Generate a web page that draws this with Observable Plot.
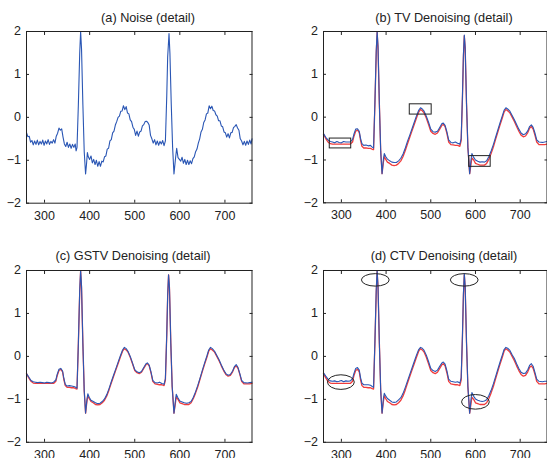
<!DOCTYPE html>
<html><head><meta charset="utf-8">
<script src="https://cdn.jsdelivr.net/npm/d3@7"></script>
<script src="https://cdn.jsdelivr.net/npm/@observablehq/plot@0.6"></script>
<style>
body{margin:0;background:#fff;}
#wrap{position:relative;width:547px;height:458px;overflow:hidden;background:#fff;font-family:"Liberation Sans",Arial,sans-serif;}
.title{position:absolute;font-size:12.7px;color:#222;white-space:nowrap;transform:translate(-50%,-50%);line-height:1;}
.panel{position:absolute;}
</style></head><body><div id="wrap"></div>
<script>
// ---- data ----
const xTicks = [300, 400, 500, 600, 700];
const yTicks = [-2, -1, 0, 1, 2];
const titles = ["(a) Noise (detail)", "(b) TV Denoising (detail)", "(c) GSTV Denoising (detail)", "(d) CTV Denoising (detail)"];

const sampleX = [260,265,270,275,280,285,290,295,300,305,310,315,320,325,328,332,336,340,343,346,350,355,360,365,369,372,375,378,380,382,385,388,391,394,396,399,403,408,413,418,423,428,433,438,443,448,453,458,463,468,473,477,481,485,490,495,500,505,510,515,520,525,528,532,536,540,545,550,555,560,565,568,571,573,575,577,580,583,587,590,592,596,600,605,610,615,620,625,630,635,640,645,650,655,660,664,668,672,677,682,687,692,697,702,707,712,717,721,725,729,733,737,742,750,755,760];
const cleanY = [-0.40,-0.50,-0.58,-0.62,-0.63,-0.63,-0.63,-0.63,-0.63,-0.63,-0.63,-0.63,-0.63,-0.58,-0.45,-0.33,-0.30,-0.36,-0.55,-0.68,-0.72,-0.72,-0.73,-0.73,-0.75,-0.76,0.30,1.50,1.98,1.60,0.30,-0.80,-1.32,-1.05,-0.92,-0.98,-1.05,-1.08,-1.12,-1.13,-1.12,-1.08,-1.02,-0.92,-0.78,-0.62,-0.47,-0.32,-0.17,-0.02,0.12,0.18,0.15,0.10,-0.02,-0.17,-0.33,-0.38,-0.40,-0.37,-0.28,-0.19,-0.17,-0.22,-0.38,-0.58,-0.64,-0.65,-0.66,-0.66,-0.68,-0.55,0.50,1.40,1.90,1.60,0.30,-0.70,-1.32,-1.10,-0.95,-1.00,-1.08,-1.10,-1.12,-1.12,-1.12,-1.08,-0.98,-0.85,-0.70,-0.52,-0.35,-0.18,-0.02,0.12,0.18,0.15,0.10,0.00,-0.10,-0.22,-0.33,-0.42,-0.46,-0.44,-0.36,-0.26,-0.22,-0.28,-0.42,-0.58,-0.64,-0.64,-0.64,-0.63];
const tvY = [-0.38,-0.47,-0.53,-0.57,-0.58,-0.60,-0.57,-0.59,-0.60,-0.57,-0.58,-0.58,-0.58,-0.52,-0.40,-0.28,-0.27,-0.33,-0.50,-0.62,-0.66,-0.65,-0.67,-0.66,-0.70,-0.72,0.35,1.55,2.00,1.65,0.30,-0.80,-1.32,-0.98,-0.85,-0.92,-0.98,-1.02,-1.05,-1.06,-1.06,-1.02,-0.96,-0.86,-0.72,-0.56,-0.42,-0.27,-0.12,0.03,0.16,0.22,0.19,0.14,0.02,-0.12,-0.28,-0.34,-0.35,-0.33,-0.24,-0.15,-0.14,-0.19,-0.34,-0.53,-0.59,-0.60,-0.58,-0.61,-0.63,-0.50,0.55,1.45,1.92,1.62,0.30,-0.70,-1.32,-1.00,-0.85,-0.94,-1.00,-1.03,-1.05,-1.04,-1.05,-1.02,-0.92,-0.79,-0.64,-0.47,-0.30,-0.13,0.03,0.16,0.22,0.19,0.14,0.04,-0.06,-0.17,-0.28,-0.37,-0.41,-0.39,-0.32,-0.22,-0.18,-0.24,-0.37,-0.53,-0.58,-0.59,-0.58,-0.57];
const gstvY = [-0.40,-0.48,-0.56,-0.59,-0.60,-0.61,-0.60,-0.61,-0.62,-0.60,-0.61,-0.62,-0.60,-0.55,-0.42,-0.30,-0.28,-0.34,-0.52,-0.65,-0.69,-0.68,-0.69,-0.70,-0.72,-0.74,0.30,1.55,2.00,1.65,0.30,-0.80,-1.32,-1.00,-0.87,-0.95,-1.02,-1.05,-1.08,-1.10,-1.09,-1.05,-0.99,-0.89,-0.75,-0.59,-0.44,-0.29,-0.14,0.01,0.15,0.21,0.18,0.12,0.00,-0.15,-0.31,-0.36,-0.38,-0.35,-0.26,-0.17,-0.15,-0.20,-0.36,-0.56,-0.61,-0.62,-0.60,-0.63,-0.65,-0.52,0.52,1.42,1.90,1.60,0.30,-0.70,-1.32,-1.05,-0.88,-0.97,-1.04,-1.06,-1.08,-1.09,-1.08,-1.05,-0.95,-0.82,-0.67,-0.50,-0.32,-0.15,0.01,0.15,0.21,0.18,0.12,0.02,-0.08,-0.20,-0.31,-0.40,-0.44,-0.42,-0.34,-0.24,-0.19,-0.26,-0.40,-0.56,-0.61,-0.62,-0.61,-0.60];
const ctvY = [-0.38,-0.46,-0.53,-0.57,-0.58,-0.57,-0.59,-0.58,-0.56,-0.59,-0.57,-0.58,-0.57,-0.52,-0.40,-0.28,-0.26,-0.32,-0.50,-0.62,-0.66,-0.66,-0.66,-0.67,-0.70,-0.72,0.35,1.55,2.00,1.62,0.30,-0.80,-1.32,-0.98,-0.86,-0.92,-0.98,-1.02,-1.06,-1.07,-1.06,-1.01,-0.96,-0.86,-0.72,-0.57,-0.42,-0.27,-0.12,0.03,0.16,0.21,0.19,0.14,0.03,-0.12,-0.28,-0.33,-0.35,-0.32,-0.23,-0.15,-0.13,-0.18,-0.33,-0.53,-0.58,-0.59,-0.60,-0.59,-0.62,-0.50,0.55,1.45,1.93,1.62,0.30,-0.70,-1.32,-1.00,-0.84,-0.93,-0.99,-1.02,-1.04,-1.05,-1.04,-1.01,-0.91,-0.79,-0.64,-0.47,-0.30,-0.13,0.03,0.16,0.21,0.19,0.14,0.04,-0.05,-0.17,-0.28,-0.37,-0.40,-0.39,-0.31,-0.21,-0.17,-0.23,-0.37,-0.53,-0.58,-0.59,-0.58,-0.58];

const noiseX = [260,263,266,269,272,275,278,281,284,287,290,293,296,299,302,305,308,311,314,317,320,323,326,329,332,335,338,341,344,347,350,353,356,359,362,365,368,370,372,375,378,380,382,385,388,391,393,395,397,400,403,406,409,412,415,418,421,424,427,430,433,436,439,442,445,448,451,454,457,460,463,466,469,472,475,478,481,484,487,490,493,496,499,502,505,508,511,514,517,520,523,526,529,532,535,538,541,544,547,550,553,556,559,562,565,568,571,573,576,578,581,584,587,590,593,596,599,602,605,608,611,614,617,620,623,626,629,632,635,638,641,644,647,650,653,656,659,662,665,668,671,674,677,680,683,686,689,692,695,698,701,704,707,710,713,716,719,722,725,728,731,734,737,740,743,746,749,752,755,758,760];
const noiseY = [-0.36,-0.45,-0.44,-0.58,-0.54,-0.64,-0.55,-0.63,-0.53,-0.64,-0.56,-0.62,-0.53,-0.65,-0.55,-0.62,-0.52,-0.63,-0.56,-0.60,-0.52,-0.60,-0.44,-0.37,-0.25,-0.30,-0.27,-0.46,-0.62,-0.68,-0.58,-0.70,-0.62,-0.72,-0.63,-0.70,-0.62,-0.78,-0.70,0.30,1.50,2.00,1.60,0.30,-0.80,-1.32,-1.10,-0.82,-0.92,-0.98,-0.90,-1.06,-0.98,-1.10,-1.00,-1.14,-1.03,-1.14,-1.02,-1.04,-0.92,-0.90,-0.74,-0.72,-0.55,-0.52,-0.36,-0.32,-0.18,-0.10,0.00,0.03,0.14,0.15,0.27,0.18,0.25,0.10,0.08,-0.06,-0.10,-0.23,-0.28,-0.42,-0.32,-0.44,-0.34,-0.32,-0.20,-0.17,-0.10,-0.09,-0.12,-0.18,-0.42,-0.50,-0.60,-0.52,-0.64,-0.55,-0.65,-0.56,-0.62,-0.54,-0.66,-0.55,0.50,1.40,1.95,1.50,0.30,-0.70,-1.32,-1.00,-0.72,-0.94,-0.98,-1.02,-0.93,-1.07,-0.98,-1.10,-1.00,-1.10,-1.01,-1.08,-0.96,-0.92,-0.80,-0.74,-0.60,-0.50,-0.34,-0.28,-0.12,-0.06,0.08,0.10,0.27,0.20,0.26,0.16,0.15,0.06,0.03,-0.08,-0.08,-0.20,-0.22,-0.34,-0.36,-0.46,-0.38,-0.48,-0.36,-0.35,-0.24,-0.21,-0.17,-0.25,-0.30,-0.50,-0.55,-0.64,-0.56,-0.65,-0.55,-0.63,-0.53,-0.62,-0.50];

// annotations
const boxX1 = [274, 453, 586];
const boxX2 = [322, 502, 634];
const boxY1 = [-0.73, 0.06, -1.16];
const boxY2 = [-0.50, 0.30, -0.91];
const ellCX = [377, 576, 300, 601];
const ellCY = [1.77, 1.77, -0.61, -1.07];
const ellRX = [31, 31, 30, 31];
const ellRY = [0.145, 0.145, 0.17, 0.17];

// ---- drawing ----
const BLUE = "#2a56b4", RED = "#f03c3c", INK = "#222";
const mL = 30, mR = 6, mT = 6, mB = 26;
const layout = [
  {left: 26, top: 31, w: 225.5, h: 171.7, tx: 148, ty: 17.5},
  {left: 323, top: 31, w: 223.5, h: 171.3, tx: 444, ty: 17.5},
  {left: 26, top: 269.7, w: 225.5, h: 171.8, tx: 133, ty: 256},
  {left: 323, top: 269.7, w: 223.5, h: 171.8, tx: 444, ty: 256}
];
const toRows = (xs, ys) => xs.map((x, i) => ({x, y: ys[i]}));
const clean = toRows(sampleX, cleanY);
const seriesBlue = [toRows(noiseX, noiseY), toRows(sampleX, tvY), toRows(sampleX, gstvY), toRows(sampleX, ctvY)];
const boxes = boxX1.map((x1, i) => ({x1, x2: boxX2[i], y1: boxY1[i], y2: boxY2[i]}));
const ells = ellCX.map((cx, i) => ({cx, cy: ellCY[i], rx: ellRX[i], ry: ellRY[i]}));

function ellipseMark(index, scales) {
  const g = d3.create("svg:g");
  for (const e of ells) {
    const cx = scales.x(e.cx), cy = scales.y(e.cy);
    g.append("ellipse")
      .attr("cx", cx).attr("cy", cy)
      .attr("rx", Math.abs(scales.x(e.cx + e.rx) - cx))
      .attr("ry", Math.abs(scales.y(e.cy + e.ry) - cy))
      .attr("fill", "none").attr("stroke", INK).attr("stroke-width", 1);
  }
  return g.node();
}

const wrap = document.getElementById("wrap");
layout.forEach((L, i) => {
  const marks = [];
  if (i > 0) marks.push(Plot.line(clean, {x: "x", y: "y", stroke: RED, strokeWidth: 1.3}));
  marks.push(Plot.line(seriesBlue[i], {x: "x", y: "y", stroke: BLUE, strokeWidth: 1.1}));
  if (i === 1) marks.push(Plot.rect(boxes, {x1: "x1", x2: "x2", y1: "y1", y2: "y2", fill: "none", stroke: INK, strokeWidth: 1}));
  if (i === 3) marks.push(ellipseMark);
  marks.push(
    Plot.frame({stroke: INK, strokeWidth: 1}),
    Plot.axisX(xTicks, {anchor: "bottom", tickSize: -3, tickPadding: 10.5, label: null, stroke: INK}),
    Plot.axisX(xTicks, {anchor: "top", tickSize: -3, tickFormat: () => "", label: null, stroke: INK}),
    Plot.axisY(yTicks, {anchor: "left", tickSize: -3, tickPadding: 8.5, label: null, stroke: INK}),
    Plot.axisY(yTicks, {anchor: "right", tickSize: -3, tickFormat: () => "", label: null, stroke: INK})
  );
  const svg = Plot.plot({
    width: mL + L.w + mR, height: mT + L.h + mB,
    marginLeft: mL, marginRight: mR, marginTop: mT, marginBottom: mB,
    x: {domain: [260, 760]},
    y: {domain: [-2, 2]},
    style: {fontFamily: '"Liberation Sans", Arial, sans-serif', fontSize: "12.5px", color: INK, background: "transparent", overflow: "visible"},
    marks
  });
  svg.classList.add("panel");
  svg.style.left = (L.left - mL) + "px";
  svg.style.top = (L.top - mT) + "px";
  wrap.appendChild(svg);
  const t = document.createElement("div");
  t.className = "title";
  t.textContent = titles[i];
  t.style.left = L.tx + "px";
  t.style.top = L.ty + "px";
  wrap.appendChild(t);
});
</script>
</body></html>
